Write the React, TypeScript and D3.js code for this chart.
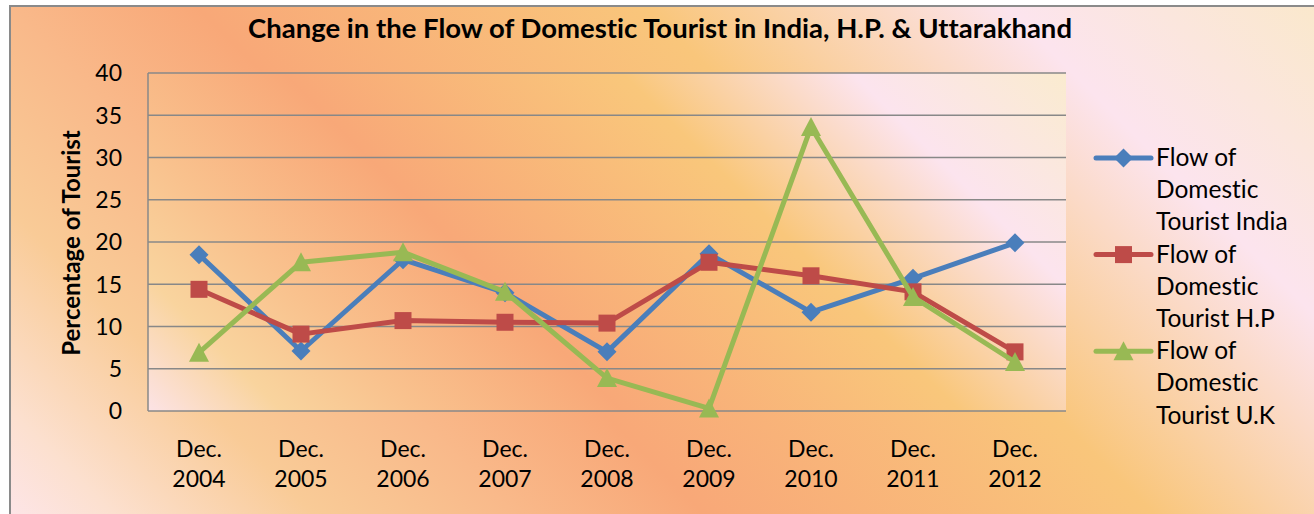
import React from 'react';
import * as d3 from 'd3';

const categories = ['2004', '2005', '2006', '2007', '2008', '2009', '2010', '2011', '2012'];
const indiaValues = [18.5, 7.1, 17.9, 14.0, 7.0, 18.6, 11.7, 15.7, 19.9];
const hpValues = [14.4, 9.1, 10.7, 10.5, 10.4, 17.6, 16.0, 14.1, 7.0];
const ukValues = [6.9, 17.6, 18.8, 14.1, 3.9, 0.3, 33.6, 13.5, 5.8];
const yTicks = [0, 5, 10, 15, 20, 25, 30, 35, 40];

const series = [
  { name: 'Tourist India', values: indiaValues, color: '#4A7EBB', marker: 'diamond' },
  { name: 'Tourist H.P', values: hpValues, color: '#BE4B48', marker: 'square' },
  { name: 'Tourist U.K', values: ukValues, color: '#98B954', marker: 'triangle' },
];

const W = 1314;
const H = 514;
const plot = { left: 148, top: 73, right: 1066, bottom: 411 };
const FONT = 'Lato, "Open Sans", sans-serif';

// stops are keyed by (x - y), gradient runs at 45 degrees
const outerStops: [number, string][] = [
  [-510, '#FDE5E8'], [-400, '#FCE0CF'], [-200, '#F9CB97'], [0, '#F9B98A'],
  [190, '#F8A878'], [640, '#F9C67B'], [1000, '#FCE4EE'], [1310, '#FAE8CC'],
];
const plotStops: [number, string][] = [
  [-263, '#FCE3E6'], [-130, '#F9D49E'], [0, '#F9C28E'], [210, '#F8A878'],
  [550, '#F9C77B'], [780, '#FCE4EE'], [993, '#FAEBCF'],
];

const diagGradient = (id: string, stops: [number, string][], x0: number, y0: number) => {
  const t0 = stops[0][0];
  const t1 = stops[stops.length - 1][0];
  const d = (t1 - t0) / 2;
  return (
    <linearGradient id={id} gradientUnits="userSpaceOnUse" x1={x0} y1={y0} x2={x0 + d} y2={y0 - d}>
      {stops.map(([t, c]) => (
        <stop key={t} offset={(t - t0) / (t1 - t0)} stopColor={c} />
      ))}
    </linearGradient>
  );
};

const markerPath = (type: string) => {
  if (type === 'diamond') return 'M0,-9.5L9.5,0L0,9.5L-9.5,0Z';
  if (type === 'square') return 'M-8.5,-8.5H8.5V8.5H-8.5Z';
  return 'M0,-10L10,9L-10,9Z';
};

export default function App() {
  const x = d3.scaleBand().domain(categories).range([plot.left, plot.right]);
  const y = d3.scaleLinear().domain([0, 40]).range([plot.bottom, plot.top]);
  const cx = (c: string) => (x(c) as number) + x.bandwidth() / 2;

  const line = d3.line<number>()
    .x((_, i) => cx(categories[i]))
    .y(d => y(d));

  const legendX = 1096;
  const legendTextX = 1156;
  const legendLine = 32.2;
  const legendTop = 166;

  return (
    <svg width={W} height={H} style={{ position: 'absolute', left: 0, top: 0, fontVariantLigatures: 'none' }} fontFamily={FONT}>
      <defs>
        {diagGradient('outerBg', outerStops, 0, 510)}
        {diagGradient('plotBg', plotStops, plot.left, plot.bottom)}
      </defs>
      <rect x={0} y={0} width={W} height={H} fill="#fff" />
      <rect x={10} y={6} width={W + 10} height={H + 10} fill="url(#outerBg)" stroke="#8A8A8A" strokeWidth={2} />

      <text x={660} y={38} textAnchor="middle" fontWeight="bold" fontSize={26} textLength={824} lengthAdjust="spacingAndGlyphs">
        Change in the Flow of Domestic Tourist in India, H.P. &amp; Uttarakhand
      </text>

      <rect x={plot.left} y={plot.top} width={plot.right - plot.left} height={plot.bottom - plot.top} fill="url(#plotBg)" />
      {yTicks.map(t => (
        <line key={t} x1={plot.left} x2={plot.right} y1={y(t)} y2={y(t)} stroke="#888" strokeWidth={1.5} />
      ))}
      <line x1={plot.left} x2={plot.left} y1={plot.top} y2={plot.bottom} stroke="#888" strokeWidth={1.5} />

      {yTicks.map(t => (
        <text key={t} x={122} y={y(t)} dy="0.36em" textAnchor="end" fontSize={23}>{t}</text>
      ))}
      {categories.map(c => (
        <text key={c} x={cx(c)} textAnchor="middle" fontSize={23}>
          <tspan x={cx(c)} y={457}>Dec.</tspan>
          <tspan x={cx(c)} y={487}>{c}</tspan>
        </text>
      ))}
      <text transform={`translate(80,243) rotate(-90)`} textAnchor="middle" fontWeight="bold" fontSize={24}>
        Percentage of Tourist
      </text>

      {series.map(s => (
        <g key={s.name}>
          <path d={line(s.values) || ''} fill="none" stroke={s.color} strokeWidth={5} strokeLinejoin="round" />
          {s.values.map((v, i) => (
            <path key={i} d={markerPath(s.marker)} transform={`translate(${cx(categories[i])},${y(v)})`} fill={s.color} />
          ))}
        </g>
      ))}

      {series.map((s, i) => {
        const base = legendTop + i * 3 * legendLine;
        const my = base - 8;
        return (
          <g key={s.name}>
            <line x1={legendX} x2={legendX + 55} y1={my} y2={my} stroke={s.color} strokeWidth={5} strokeLinecap="round" />
            <path d={markerPath(s.marker)} transform={`translate(${legendX + 27.5},${my})`} fill={s.color} />
            <text x={legendTextX} fontSize={24.5}>
              <tspan x={legendTextX} y={base}>Flow of</tspan>
              <tspan x={legendTextX} y={base + legendLine}>Domestic</tspan>
              <tspan x={legendTextX} y={base + 2 * legendLine}>{s.name}</tspan>
            </text>
          </g>
        );
      })}
    </svg>
  );
}
